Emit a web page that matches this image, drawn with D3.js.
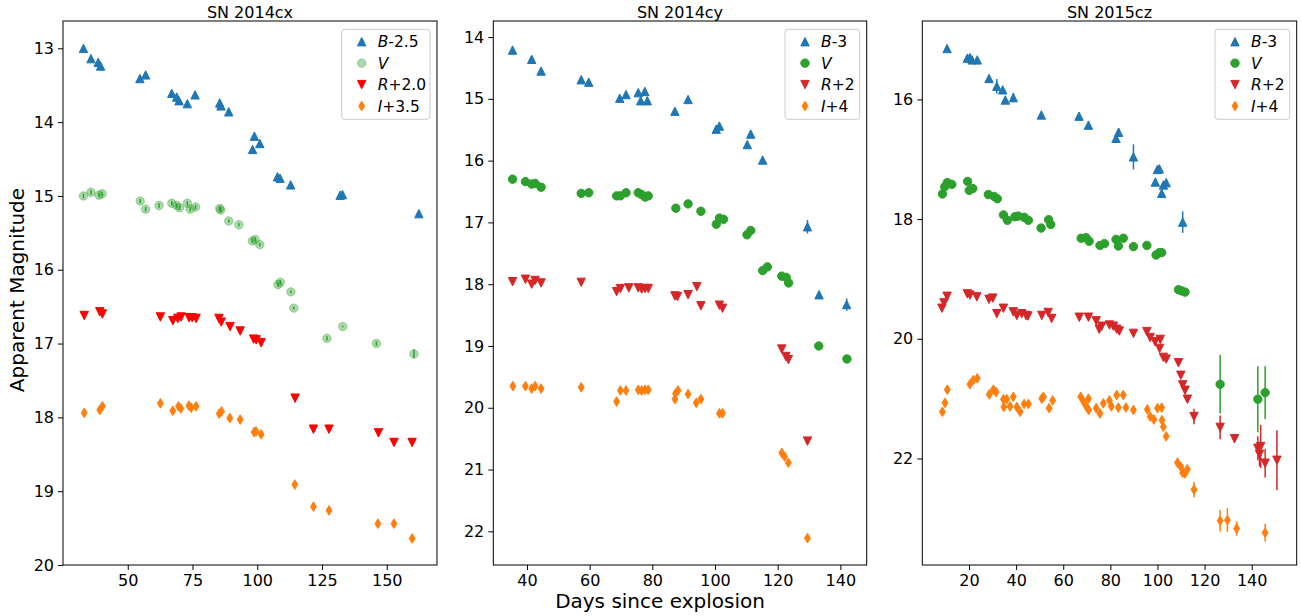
<!DOCTYPE html>
<html><head><meta charset="utf-8">
<script src="https://cdn.jsdelivr.net/npm/d3@7"></script>
<style>body{margin:0;background:#fff}svg{display:block}text{font-family:"DejaVu Sans",sans-serif;fill:#000}</style>
</head><body><svg id="c" width="1301" height="616"></svg>
<script>
// ---- Data: [day, plotted magnitude, error] ----
const titles = ["SN 2014cx", "SN 2014cy", "SN 2015cz"];
const legendOffsets = [["-2.5", "", "+2.0", "+3.5"], ["-3", "", "+2", "+4"], ["-3", "", "+2", "+4"]];
const bandNames = ["B", "V", "R", "I"];
const xTicks1 = [50, 75, 100, 125, 150];
const xTicks2 = [40, 60, 80, 100, 120, 140];
const xTicks3 = [20, 40, 60, 80, 100, 120, 140];
const yTicks1 = [13, 14, 15, 16, 17, 18, 19, 20];
const yTicks2 = [14, 15, 16, 17, 18, 19, 20, 21, 22];
const yTicks3 = [16, 18, 20, 22];

const cx_B = [[32.9,13.00],[35.8,13.14],[38.6,13.19],[39.5,13.24],[54.7,13.41],[56.9,13.36],[67.0,13.61],[68.9,13.66],[69.8,13.71],[73.0,13.75],[76.0,13.63],[85.5,13.74],[86.0,13.78],[89.0,13.86],[98.2,14.37],[98.9,14.19],[101.0,14.29],[107.8,14.74],[108.8,14.76],[112.9,14.85],[132.0,14.99],[132.9,14.98],[162.4,15.24]];
const cx_V = [[32.9,15.00,0.03],[35.8,14.95,0.03],[38.9,14.99,0.03],[40.1,14.97,0.03],[54.8,15.07,0.03],[56.9,15.18,0.03],[62.1,15.13,0.03],[67.0,15.10,0.03],[68.9,15.13,0.03],[70.0,15.16,0.03],[73.0,15.10,0.03],[74.1,15.18,0.03],[76.2,15.15,0.03],[85.5,15.17,0.03],[85.9,15.19,0.03],[89.0,15.34,0.02],[92.9,15.39,0.02],[98.1,15.61,0.03],[99.2,15.59,0.03],[101.0,15.66,0.02],[108.0,16.20,0.03],[108.9,16.17,0.03],[113.0,16.30,0.02],[114.1,16.52,0.02],[126.9,16.93,0.03],[133.0,16.77,0.01],[146.0,17.00,0.03],[160.5,17.14,0.06]];
const cx_R = [[33.2,16.62],[39.2,16.57],[40.2,16.60],[62.6,16.64],[67.4,16.69],[69.3,16.66],[70.6,16.64],[73.7,16.65],[74.9,16.65],[76.4,16.66],[85.2,16.66],[86.1,16.71],[89.5,16.77],[93.4,16.83],[98.6,16.94],[99.6,16.95],[101.5,16.99],[114.6,17.74],[121.7,18.16],[127.7,18.16],[146.8,18.21],[152.8,18.34],[159.8,18.34]];
const cx_I = [[33.2,17.94],[39.2,17.90],[40.2,17.85],[62.6,17.81],[67.4,17.91],[69.6,17.85],[70.5,17.88],[73.6,17.84],[74.5,17.87],[76.4,17.85],[85.3,17.95],[86.2,17.92],[89.4,18.01],[93.4,18.03],[98.8,18.20],[99.5,18.19],[101.5,18.23],[114.5,18.91],[121.7,19.21],[127.7,19.26],[146.6,19.44],[152.8,19.44],[159.8,19.64]];

const cy_B = [[35.4,14.21],[41.5,14.36],[44.5,14.55],[57.3,14.69],[59.7,14.73],[69.6,14.99],[71.6,14.93],[75.5,14.90],[76.3,15.03],[77.6,14.88],[78.4,15.03],[87.2,15.20],[91.4,15.01],[100.4,15.49],[101.4,15.44],[110.3,15.74],[111.4,15.57],[115.2,15.99],[129.5,17.07,0.11],[133.2,18.17],[142.0,18.33,0.1]];
const cy_V = [[35.4,16.30],[39.5,16.34],[41.5,16.38],[42.6,16.37],[44.5,16.43],[57.3,16.53],[59.7,16.52],[68.6,16.57],[69.8,16.57],[71.6,16.52],[75.5,16.52],[76.6,16.55],[77.7,16.59],[78.7,16.57],[87.5,16.77],[91.4,16.70],[95.5,16.82],[100.4,17.03],[101.4,16.93],[102.7,16.95],[110.2,17.20],[111.4,17.13],[115.2,17.78],[116.7,17.72],[121.3,17.87],[122.7,17.89],[123.5,17.98],[133.1,19.00,0.05],[142.1,19.21]];
const cy_R = [[35.4,17.96],[39.5,17.92],[41.5,18.00],[42.6,17.94],[44.5,17.98],[57.3,17.97],[68.6,18.12],[69.8,18.07],[72.5,18.06],[75.5,18.06],[76.6,18.08],[77.7,18.07],[78.7,18.07],[87.2,18.19],[88.0,18.20],[91.4,18.17],[94.2,18.04],[95.5,18.35],[101.4,18.34],[102.4,18.39],[121.3,19.05],[122.6,19.17],[123.4,19.22],[129.5,20.54]];
const cy_I = [[35.5,19.65],[39.5,19.65],[41.5,19.69],[42.6,19.65],[44.5,19.69],[57.3,19.67],[68.6,19.90],[69.8,19.72],[71.6,19.72],[75.5,19.71],[76.6,19.72],[77.7,19.71],[78.7,19.71],[87.2,19.86],[87.4,19.77],[88.2,19.72],[91.4,19.78],[94.0,19.92],[95.5,19.86],[101.4,20.09],[102.4,20.09],[121.3,20.73],[122.2,20.79],[123.4,20.89],[129.5,22.11]];

const cz_B = [[10.7,15.15],[19.3,15.31],[20.4,15.30],[21.3,15.34],[23.5,15.34],[28.5,15.65],[31.8,15.78,0.12],[34.3,15.84],[35.4,16.01],[38.8,15.97,0.08],[50.7,16.26,0.05],[66.7,16.28],[70.7,16.43],[82.4,16.65],[83.5,16.55,0.07],[89.8,16.96,0.21],[99.1,17.38,0.05],[100.0,17.17],[100.8,17.16],[101.8,17.57,0.05],[102.5,17.43],[103.7,17.39],[110.7,18.05,0.18]];
const cz_V = [[8.7,17.58],[9.7,17.46],[10.8,17.39],[12.7,17.42],[19.4,17.37],[20.1,17.52],[21.6,17.49],[28.2,17.59],[30.6,17.62],[32.0,17.66],[34.6,17.93],[36.3,18.02],[39.5,17.96],[40.9,17.95],[43.4,17.97],[45.2,18.02],[50.6,18.15],[53.8,18.01],[54.7,18.09],[67.6,18.32],[69.7,18.31],[71.0,18.37],[75.6,18.44],[77.5,18.41],[82.4,18.34],[83.4,18.45],[85.5,18.32],[89.8,18.46,0.07],[95.5,18.44],[99.4,18.60,0.06],[100.8,18.56],[101.8,18.56],[108.9,19.18],[110.3,19.20],[111.7,19.22],[126.6,20.76,0.49],[142.6,21.01,0.55],[145.7,20.90,0.44]];
const cz_R = [[8.5,19.49],[9.4,19.40],[10.7,19.29],[19.3,19.25],[20.4,19.27],[23.3,19.30],[28.5,19.34],[30.1,19.32],[31.8,19.58],[34.6,19.49],[38.8,19.55],[40.3,19.61],[42.4,19.58],[44.2,19.61],[45.0,19.62],[50.9,19.61],[53.6,19.56],[55.1,19.66],[66.8,19.64],[70.7,19.64],[74.0,19.70],[75.3,19.84],[76.3,19.79],[79.6,19.77],[81.3,19.79],[82.7,19.84],[83.8,19.87],[89.8,19.91],[95.5,19.88],[96.9,19.98],[99.0,20.05],[100.9,20.16],[101.2,20.01],[102.5,20.31],[103.7,20.34],[108.9,20.40],[109.9,20.61],[110.7,20.77],[111.7,20.86],[112.7,21.01],[115.5,21.30,0.13],[126.6,21.48,0.2],[132.7,21.67,0.05],[142.6,21.83,0.2],[143.3,21.93,0.2],[143.8,21.80,0.36],[145.7,22.08,0.24],[150.7,22.03,0.5]];
const cz_I = [[8.7,21.22],[9.8,21.07],[10.8,20.85],[20.4,20.76],[21.8,20.69],[23.5,20.66],[28.6,20.93],[30.3,20.85],[31.5,20.89],[34.6,21.01],[34.8,21.14],[36.0,21.01],[37.4,21.13],[38.8,20.97],[40.3,21.14],[41.7,21.22],[43.4,21.09],[45.2,21.09],[50.9,21.00],[51.6,20.97],[54.0,21.16],[55.5,21.03],[67.4,20.97],[68.6,21.05],[69.8,21.13],[70.7,21.00],[70.8,21.19],[74.0,21.16],[75.6,21.25],[77.0,21.08],[79.6,21.03],[80.4,21.13],[82.7,20.94],[83.4,21.15],[85.5,20.94],[86.6,21.15],[89.8,21.19],[95.7,21.18],[96.9,21.30],[98.5,21.35],[100.0,21.16],[101.8,21.15],[101.9,21.36],[102.5,21.47],[103.7,21.63],[108.5,22.07],[109.9,22.14],[110.7,22.24],[111.7,22.25],[112.7,22.18],[115.5,22.52,0.13],[126.6,23.04,0.18],[129.7,23.03,0.2],[133.6,23.17,0.12],[145.7,23.24,0.15]];

// ---- Layout ----
const panels = [
  {x:[63,437], xd:[25,169.4], yd:[12.63,20], xt:xTicks1, yt:yTicks1, series:[cx_B,cx_V,cx_R,cx_I],
   colors:["#1f77b4","#2ca02c","#ff0000","#ff7f0e"], vAlpha:0.4, legW:88.3},
  {x:[493.3,866.7], xd:[29.25,148.4], yd:[13.74,22.545], xt:xTicks2, yt:yTicks2, series:[cy_B,cy_V,cy_R,cy_I],
   colors:["#1f77b4","#2ca02c","#d62728","#ff7f0e"], vAlpha:1, legW:74.7},
  {x:[922.3,1296.7], xd:[0.17,159.1], yd:[14.69,23.78], xt:xTicks3, yt:yTicks3, series:[cz_B,cz_V,cz_R,cz_I],
   colors:["#1f77b4","#2ca02c","#d62728","#ff7f0e"], vAlpha:1, legW:74.7}
];
const plotTop = 21, plotBottom = 565;
const ms = 4.2;
const shapes = [
  `M0,${-ms}L${ms},${ms}L${-ms},${ms}Z`,
  null,
  `M0,${ms}L${ms},${-ms}L${-ms},${-ms}Z`,
  `M0,${-ms*1.15}L${ms*0.7},0L0,${ms*1.15}L${-ms*0.7},0Z`
];
function marker(g, k, color, alpha, x, y) {
  let el;
  if (k === 1) el = g.append("circle").attr("cx", x).attr("cy", y).attr("r", ms);
  else el = g.append("path").attr("d", shapes[k]).attr("transform", `translate(${x},${y})`);
  el.attr("fill", color).attr("stroke", color).attr("stroke-width", 1)
    .attr("fill-opacity", alpha).attr("stroke-opacity", alpha);
  return el;
}

const svg = d3.select("#c");
panels.forEach((p, pi) => {
  const xs = d3.scaleLinear().domain(p.xd).range(p.x);
  const ys = d3.scaleLinear().domain(p.yd).range([plotTop, plotBottom]);
  const g = svg.append("g");

  p.series.forEach((data, k) => {
    const color = p.colors[k];
    const alpha = k === 1 ? p.vAlpha : 1;
    data.forEach(d => {
      const e = d[2] || 0;
      if (e > 0) {
        g.append("line").attr("x1", xs(d[0])).attr("x2", xs(d[0]))
          .attr("y1", ys(d[1] - e)).attr("y2", ys(d[1] + e))
          .attr("stroke", color).attr("stroke-width", 1.5);
      }
    });
    data.forEach(d => marker(g, k, color, alpha, xs(d[0]), ys(d[1])));
  });

  const ax = g.append("g").attr("transform", `translate(0,${plotBottom})`)
    .call(d3.axisBottom(xs).tickValues(p.xt).tickSize(5).tickPadding(5).tickSizeOuter(0));
  const ay = g.append("g").attr("transform", `translate(${p.x[0]},0)`)
    .call(d3.axisLeft(ys).tickValues(p.yt).tickSize(5).tickPadding(4).tickSizeOuter(0));
  [ax, ay].forEach(a => {
    a.select(".domain").remove();
    a.selectAll("text").style("font-family", "DejaVu Sans").style("font-size", "16px").attr("fill", "#000");
    a.selectAll("line").attr("stroke", "#000").attr("stroke-width", 1);
  });

  g.append("rect").attr("x", p.x[0]).attr("y", plotTop).attr("width", p.x[1] - p.x[0]).attr("height", plotBottom - plotTop)
    .attr("fill", "none").attr("stroke", "#000").attr("stroke-width", 1);

  g.append("text").attr("x", (p.x[0] + p.x[1]) / 2).attr("y", 18.3).attr("text-anchor", "middle")
    .style("font-size", "16px").text(titles[pi]);

  const lx = p.x[1] - 7 - p.legW, ly = 29.3;
  g.append("rect").attr("x", lx).attr("y", ly).attr("width", p.legW).attr("height", 90)
    .attr("rx", 3).attr("fill", "#fff").attr("fill-opacity", 0.8).attr("stroke", "#cccccc").attr("stroke-width", 1);
  bandNames.forEach((b, k) => {
    const yy = 41.7 + k * 21.45;
    marker(g, k, p.colors[k], k === 1 ? p.vAlpha : 1, lx + 20, yy);
    const t = g.append("text").attr("x", lx + 36).attr("y", yy + 5.5).style("font-size", "15.5px");
    t.append("tspan").style("font-style", "italic").text(b);
    t.append("tspan").text(legendOffsets[pi][k]);
  });
});

svg.append("text").attr("x", 660).attr("y", 608).attr("text-anchor", "middle")
  .style("font-size", "20px").text("Days since explosion");
svg.append("text").attr("transform", "translate(24,290) rotate(-90)").attr("text-anchor", "middle")
  .style("font-size", "20px").text("Apparent Magnitude");
</script></body></html>
